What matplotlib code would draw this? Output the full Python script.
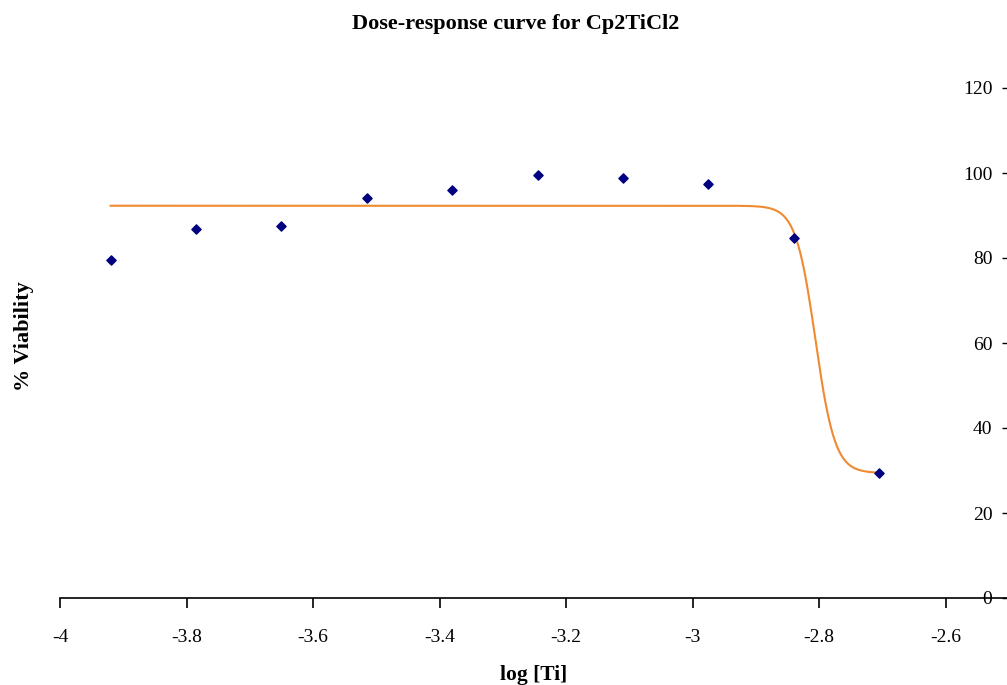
import numpy as np
import matplotlib
matplotlib.use("Agg")
import matplotlib.pyplot as plt

plt.rcParams['font.family'] = ['Liberation Serif', 'DejaVu Serif']
plt.rcParams['axes.unicode_minus'] = False

# measured points
log_ti = [-3.92, -3.785, -3.65, -3.515, -3.38, -3.245, -3.11, -2.975, -2.84, -2.705]
viability = [79.5, 86.8, 87.5, 94.2, 95.9, 99.6, 98.8, 97.4, 84.6, 29.3]

# fitted sigmoid
fit_top = 92.3
fit_bottom = 29.4
fit_log_ic50 = -2.806
fit_hill = 28.0

x_ticks = [-4, -3.8, -3.6, -3.4, -3.2, -3, -2.8, -2.6]
y_ticks = [0, 20, 40, 60, 80, 100, 120]

fig = plt.figure(figsize=(10.07, 6.85), dpi=100)
ax = fig.add_axes([60 / 1007, 87 / 685, 949 / 1007, 510 / 685])

xs = np.linspace(log_ti[0], log_ti[-1], 400)
fit = fit_bottom + (fit_top - fit_bottom) / (1 + 10 ** ((xs - fit_log_ic50) * fit_hill))
ax.plot(xs, fit, color='#F08A30', lw=1.5, zorder=2)
ax.scatter(log_ti, viability, marker='D', s=22, color='#000080', zorder=3)

ax.set_xlim(-4, -2.5)
ax.set_ylim(0, 120)
ax.set_xticks(x_ticks)
ax.set_xticklabels(['{:g}'.format(v) for v in x_ticks])
ax.set_yticks(y_ticks)

for s in ['left', 'top', 'right']:
    ax.spines[s].set_visible(False)
ax.spines['bottom'].set_linewidth(1.2)

ax.yaxis.set_ticks_position('right')
ax.tick_params(axis='y', direction='in', length=5, width=1, pad=-12, labelsize=14)
for lab in ax.get_yticklabels():
    lab.set_horizontalalignment('right')
ax.tick_params(axis='x', direction='out', length=7, width=1.2, pad=15, labelsize=14)

fig.text(534 / 1007, 1 - 675 / 685, 'log [Ti]', fontsize=15.5, fontweight='bold',
         ha='center', va='center')
fig.text(24 / 1007, 1 - 336 / 685, '% Viability', rotation=90, fontsize=16,
         fontweight='bold', ha='center', va='center')
fig.text(516 / 1007, 1 - 24 / 685, 'Dose-response curve for Cp2TiCl2', fontsize=16,
         fontweight='bold', ha='center', va='center')

fig.savefig('out.png', dpi=100)
